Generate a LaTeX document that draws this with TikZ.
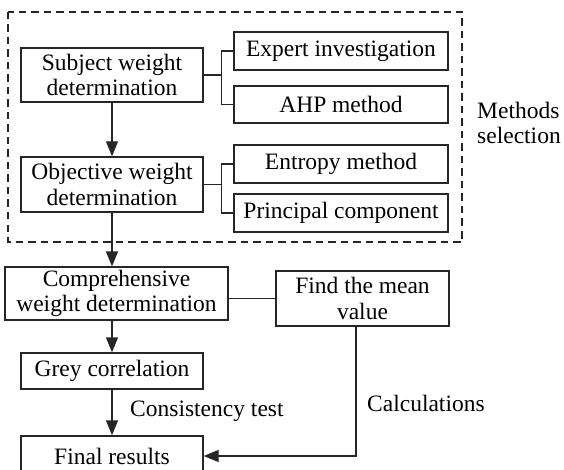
\documentclass[tikz,border=0pt]{standalone}
\usepackage{fontspec}
\setmainfont{Liberation Serif}
\usetikzlibrary{arrows.meta}
\begin{document}
\begin{tikzpicture}[x=1pt,y=-1pt,
  txt/.style={font=\fontsize{23.5}{25.5}\selectfont},
  box/.style={txt, draw=black!85, line width=1.3pt, inner sep=0pt, align=center},
  lbl/.style={txt, inner sep=0pt},
  conn/.style={draw=black!85, line width=1.3pt},
  arr/.style={conn, -{Triangle[length=15pt,width=12pt]}},
  dashbox/.style={draw=black!85, line width=1.1pt, dash pattern=on 7.5pt off 5pt},
]
\useasboundingbox (0,0) rectangle (564,470);
\clip (0,0) rectangle (564,470);

% dashed frame
\coordinate (dtl) at (8,12);
\coordinate (dbr) at (462,242);
\draw[dashbox] (dtl) rectangle (dbr);

% left column
\node[box, minimum width=182, minimum height=54] (subj) at (112,75) {Subject weight\\determination};
\node[box, minimum width=182, minimum height=55] (obj) at (112,184.5) {Objective weight\\determination};
\node[box, minimum width=223, minimum height=53] (comp) at (116.5,293.5) {Comprehensive\\weight determination};
\node[box, minimum width=182, minimum height=36] (grey) at (112,371) {Grey correlation};
\node[box, minimum width=182, minimum height=40] (final) at (112,456) {Final results};

% method boxes
\node[box, minimum width=214, minimum height=38] (exp) at (341,51) {Expert investigation};
\node[box, minimum width=214, minimum height=37] (ahp) at (341,104.5) {AHP method};
\node[box, minimum width=214, minimum height=38] (ent) at (341,164) {Entropy method};
\node[box, minimum width=214, minimum height=38] (pri) at (341,213) {Principal component};

\node[box, minimum width=173, minimum height=55] (mean) at (362.5,298.5) {Find the mean\\value};

% labels
\node[lbl, anchor=west, align=left] (ms) at (477,123) {Methods\\selection};
\node[lbl, anchor=west] (ct) at (130,411) {Consistency test};
\node[lbl, anchor=west] (calc) at (367,403) {Calculations};

% brackets
\draw[conn] (subj.east) -- ++(18,0) |- (exp.west);
\draw[conn] (subj.east) -- ++(18,0) |- (ahp.west);
\draw[conn] (obj.east) -- ++(18,0) |- (ent.west);
\draw[conn] (obj.east) -- ++(18,0) |- (pri.west);

% main flow
\draw[arr] (subj) -- (obj);
\draw[arr] (obj) -- (obj |- comp.north);
\draw[arr] (obj |- comp.south) -- (grey);
\draw[arr] (grey) -- (final);

% side
\draw[conn] (mean.west) -- (mean.west -| comp.east);
\draw[arr] ([xshift=-6.5pt]mean.south) |- (final.east);
\end{tikzpicture}
\end{document}
